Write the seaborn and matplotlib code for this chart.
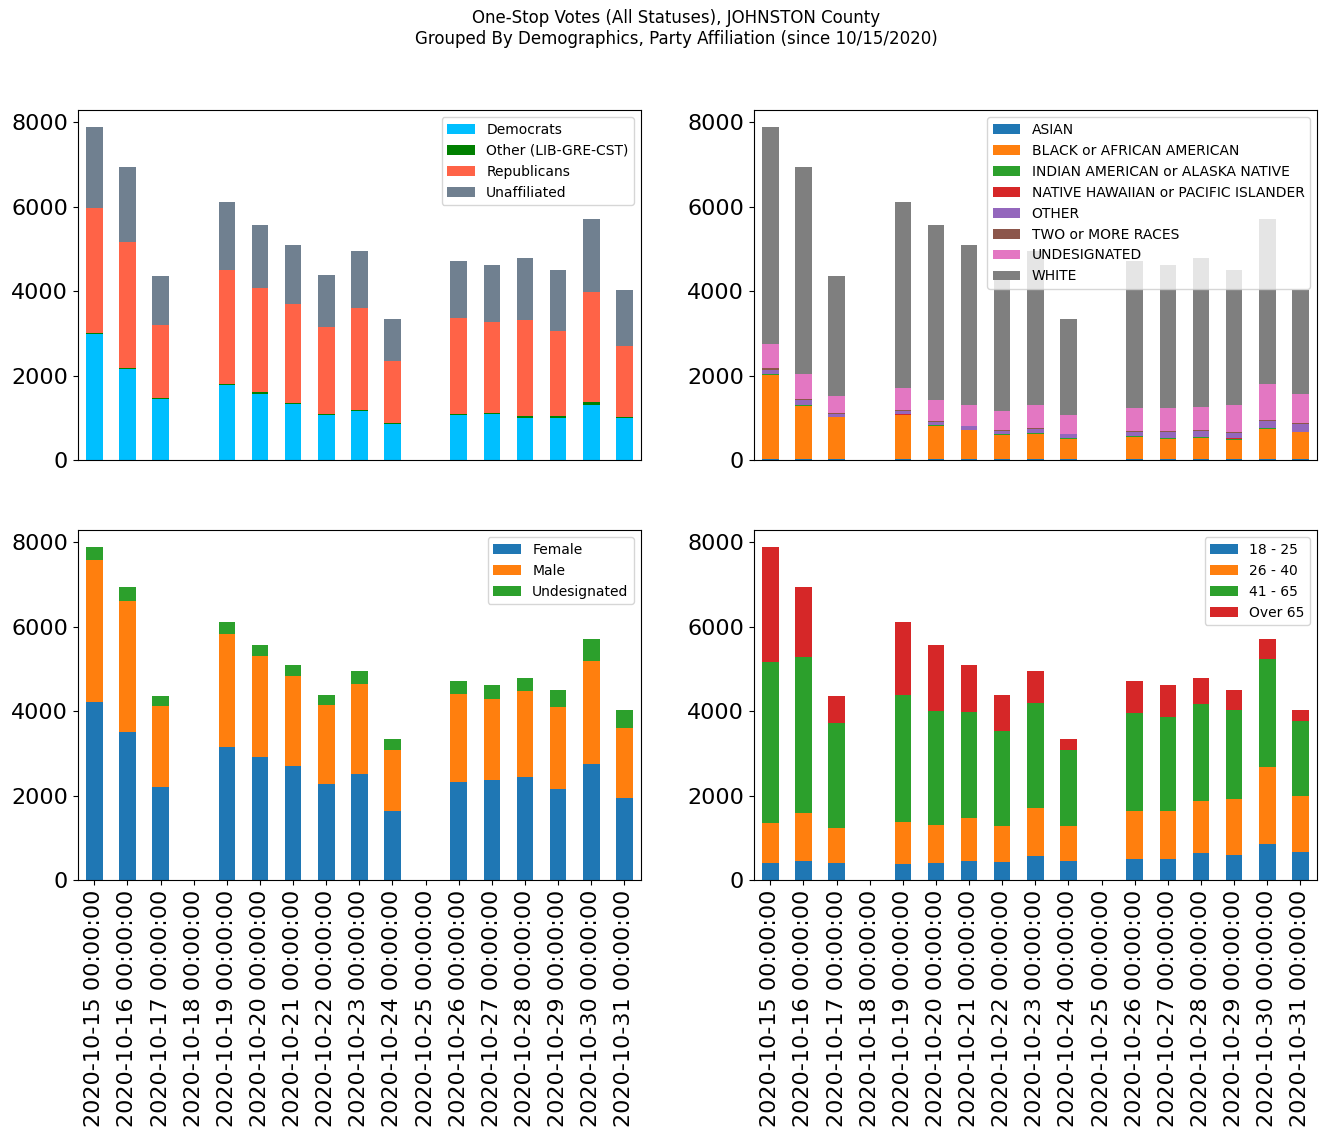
import numpy as np
import matplotlib
matplotlib.use("Agg")
import matplotlib.pyplot as plt
import seaborn as sns
from matplotlib.patches import Patch

dates = ["2020-10-15 00:00:00", "2020-10-16 00:00:00", "2020-10-17 00:00:00",
         "2020-10-18 00:00:00", "2020-10-19 00:00:00", "2020-10-20 00:00:00",
         "2020-10-21 00:00:00", "2020-10-22 00:00:00", "2020-10-23 00:00:00",
         "2020-10-24 00:00:00", "2020-10-25 00:00:00", "2020-10-26 00:00:00",
         "2020-10-27 00:00:00", "2020-10-28 00:00:00", "2020-10-29 00:00:00",
         "2020-10-30 00:00:00", "2020-10-31 00:00:00"]

# Party affiliation
party_names = ["Democrats", "Other (LIB-GRE-CST)", "Republicans", "Unaffiliated"]
democrats = [2990, 2154, 1452, 0, 1775, 1570, 1341, 1081, 1168, 860, 0, 1081, 1105, 1010, 1010, 1310, 1010]
other_party = [24, 31, 24, 0, 32, 47, 16, 16, 24, 24, 0, 16, 24, 39, 39, 71, 16]
republicans = [2959, 2983, 1719, 0, 2690, 2462, 2343, 2051, 2414, 1459, 0, 2272, 2145, 2273, 2004, 2603, 1680]
unaffiliated = [1917, 1767, 1160, 0, 1610, 1483, 1389, 1231, 1341, 994, 0, 1341, 1342, 1459, 1444, 1720, 1318]

# Race
race_names = ["ASIAN", "BLACK or AFRICAN AMERICAN", "INDIAN AMERICAN or ALASKA NATIVE",
              "NATIVE HAWAIIAN or PACIFIC ISLANDER", "OTHER", "TWO or MORE RACES",
              "UNDESIGNATED", "WHITE"]
asian = [28, 30, 24, 0, 26, 25, 27, 24, 30, 22, 0, 26, 28, 30, 25, 32, 29]
black = [1984, 1250, 991, 0, 1039, 780, 678, 586, 602, 493, 0, 536, 487, 508, 465, 720, 629]
indian = [24, 20, 10, 0, 8, 20, 10, 8, 8, 16, 0, 16, 16, 10, 24, 10, 20]
hawaiian = [5, 3, 3, 0, 16, 3, 3, 3, 3, 3, 0, 3, 3, 3, 3, 3, 3]
other_race = [103, 118, 71, 0, 79, 79, 95, 79, 95, 79, 0, 79, 126, 142, 118, 166, 166]
two_more = [32, 24, 16, 0, 24, 24, 10, 24, 24, 10, 0, 24, 24, 24, 24, 24, 24]
undesignated_race = [587, 607, 417, 0, 508, 486, 477, 433, 538, 439, 0, 544, 544, 534, 641, 841, 689]
white = [5127, 4883, 2823, 0, 4407, 4145, 3789, 3222, 3647, 2275, 0, 3482, 3388, 3530, 3197, 3908, 2464]

# Gender
gender_names = ["Female", "Male", "Undesignated"]
female = [4213, 3511, 2201, 0, 3148, 2911, 2698, 2272, 2509, 1633, 0, 2320, 2367, 2438, 2154, 2746, 1941]
male = [3361, 3093, 1918, 0, 2675, 2391, 2131, 1870, 2130, 1444, 0, 2083, 1917, 2036, 1941, 2438, 1657]
undesignated_gender = [316, 331, 236, 0, 284, 260, 260, 237, 308, 260, 0, 307, 332, 307, 402, 520, 426]

# Age
age_names = ["18 - 25", "26 - 40", "41 - 65", "Over 65"]
age_18_25 = [410, 450, 410, 0, 387, 410, 450, 434, 576, 450, 0, 497, 497, 647, 600, 860, 671]
age_26_40 = [939, 1136, 829, 0, 986, 892, 1018, 844, 1128, 828, 0, 1136, 1136, 1223, 1317, 1815, 1317]
age_41_65 = [3811, 3692, 2477, 0, 3006, 2698, 2509, 2249, 2486, 1799, 0, 2320, 2225, 2296, 2107, 2556, 1776]
age_over_65 = [2730, 1657, 639, 0, 1728, 1562, 1112, 852, 757, 260, 0, 757, 758, 615, 473, 473, 260]

party_colors = ["#00BFFF", "#008000", "#FF6347", "#708090"]
race_colors = ["#1f77b4", "#ff7f0e", "#2ca02c", "#d62728", "#9467bd", "#8c564b", "#e377c2", "#7f7f7f"]
gender_colors = ["#1f77b4", "#ff7f0e", "#2ca02c"]
age_colors = ["#1f77b4", "#ff7f0e", "#2ca02c", "#d62728"]


def stacked(ax, layers, names, colors):
    cum = np.cumsum(np.array(layers, dtype=float), axis=0)
    for i in range(len(layers) - 1, -1, -1):
        sns.barplot(x=dates, y=cum[i], order=dates, color=colors[i], width=0.5,
                    saturation=1, errorbar=None, ax=ax, linewidth=0)
    ax.set_xlabel("")
    ax.set_ylabel("")
    handles = [Patch(facecolor=c, label=n) for c, n in zip(colors, names)]
    ax.legend(handles=handles, loc="upper right", fontsize=10)
    ax.tick_params(axis="y", labelsize=16)


fig, axes = plt.subplots(2, 2, figsize=(13.26, 11.37), dpi=100)
fig.subplots_adjust(left=0.0586, right=0.9932, top=0.903, bottom=0.2258,
                    wspace=0.2, hspace=0.2)

stacked(axes[0, 0], [democrats, other_party, republicans, unaffiliated], party_names, party_colors)
stacked(axes[0, 1], [asian, black, indian, hawaiian, other_race, two_more, undesignated_race, white],
        race_names, race_colors)
stacked(axes[1, 0], [female, male, undesignated_gender], gender_names, gender_colors)
stacked(axes[1, 1], [age_18_25, age_26_40, age_41_65, age_over_65], age_names, age_colors)

for ax in axes[0]:
    ax.tick_params(axis="x", bottom=False, labelbottom=False)
for ax in axes[1]:
    ax.tick_params(axis="x", labelrotation=90, labelsize=16)

fig.suptitle("One-Stop Votes (All Statuses), JOHNSTON County\n"
             "Grouped By Demographics, Party Affiliation (since 10/15/2020)",
             fontsize=12, x=0.5098, y=0.992)

fig.savefig("out.png", dpi=100)
